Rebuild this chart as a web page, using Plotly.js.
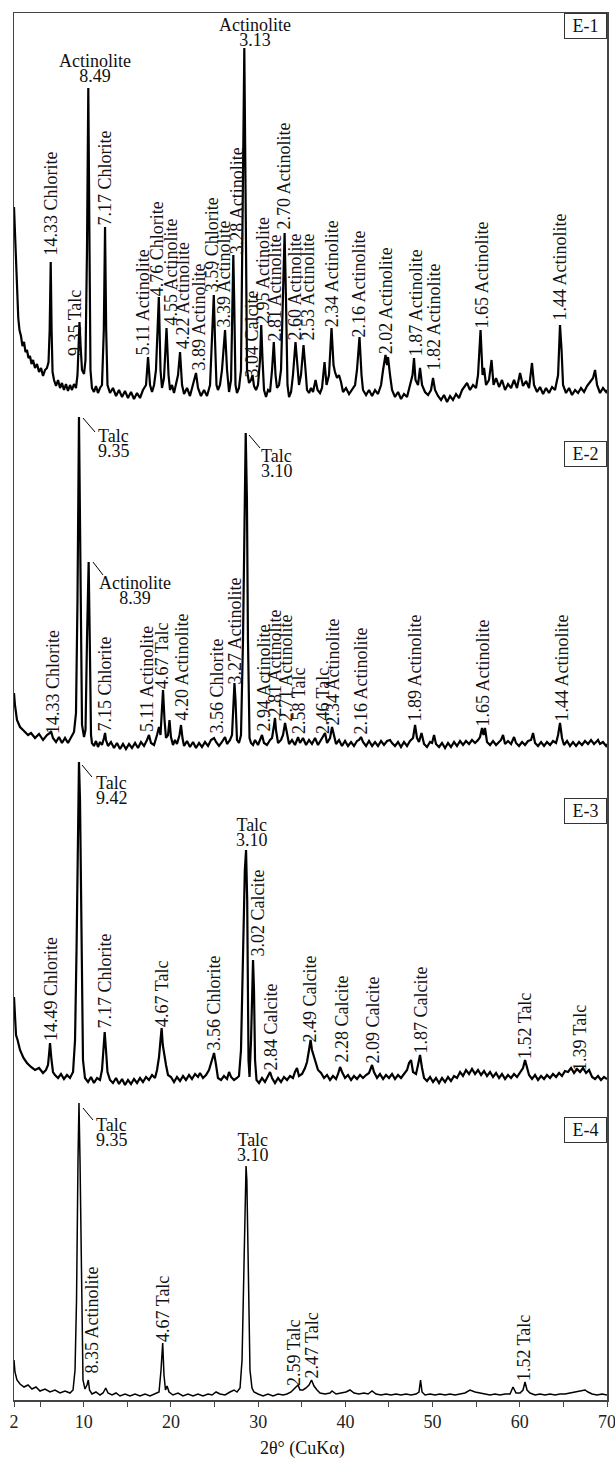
<!DOCTYPE html>
<html><head><meta charset="utf-8">
<script src="https://cdn.plot.ly/plotly-3.0.1.min.js"></script>
<style>html,body{margin:0;padding:0;background:#fff}#chart{width:615px;height:1458px}</style>
</head><body><div id="chart"></div>
<script>
// ---------- E-1 ----------
const e1TwoTheta = [2.00,2.07,2.15,2.23,2.34,2.49,2.63,2.80,2.97,3.15,3.32,3.49,3.66,3.83,4.01,4.18,4.41,4.64,4.87,5.10,5.33,5.56,5.78,5.96,6.09,6.21,6.31,6.42,6.59,6.82,7.05,7.28,7.50,7.73,7.96,8.19,8.42,8.65,8.88,9.11,9.28,9.51,9.63,9.80,10.03,10.20,10.37,10.52,10.66,10.77,10.94,11.17,11.40,11.63,11.86,12.09,12.30,12.44,12.57,12.72,13.01,13.35,13.70,14.04,14.39,14.73,15.07,15.42,15.76,16.11,16.45,16.79,17.14,17.37,17.60,17.83,18.06,18.28,18.61,18.80,18.97,19.20,19.49,19.72,19.89,20.12,20.35,20.58,20.81,21.04,21.27,21.50,21.84,22.18,22.53,22.87,23.10,23.44,23.79,24.13,24.48,24.71,24.91,25.05,25.22,25.39,25.62,25.85,26.20,26.43,26.66,26.89,27.06,27.15,27.25,27.40,27.57,27.80,28.03,28.26,28.41,28.56,28.72,28.95,29.18,29.35,29.52,29.75,29.98,30.21,30.35,30.50,30.67,30.90,31.13,31.36,31.59,31.79,31.99,32.16,32.39,32.62,32.85,33.03,33.19,33.36,33.54,33.77,33.99,34.28,34.45,34.68,34.91,35.20,35.43,35.60,35.83,36.06,36.29,36.58,36.81,37.09,37.32,37.61,37.84,38.12,38.41,38.64,38.81,39.04,39.27,39.50,39.73,40.07,40.42,40.76,41.11,41.33,41.62,41.85,42.02,42.37,42.71,43.06,43.40,43.74,44.09,44.32,44.60,44.78,44.89,45.12,45.35,45.69,46.04,46.38,46.72,47.07,47.41,47.70,47.87,48.04,48.33,48.56,48.79,49.13,49.48,49.82,50.05,50.28,50.62,50.97,51.31,51.66,52.00,52.34,52.69,53.03,53.38,53.72,53.95,54.29,54.64,54.98,55.21,55.50,55.73,55.90,56.13,56.47,56.76,56.99,57.28,57.62,57.96,58.31,58.65,59.00,59.34,59.68,60.03,60.37,60.72,61.06,61.40,61.63,61.98,62.32,62.67,63.01,63.35,63.70,64.04,64.39,64.61,64.79,64.96,65.30,65.65,65.99,66.34,66.68,67.02,67.37,67.71,68.06,68.40,68.63,68.86,69.20,69.54,69.89,70.00];
const e1Counts = [193,178,160,138,110,82,70,64,54,58,48,50,42,44,36,40,32,36,28,32,24,30,32,38,70,138,70,28,20,14,20,12,17,10,16,9,15,10,16,12,25,78,55,30,26,40,150,312,150,30,12,8,14,7,12,15,70,173,70,15,7,12,4,10,3,9,2,8,1,7,2,10,15,43,15,8,15,30,103,30,12,22,72,25,10,15,7,16,25,48,15,6,12,4,15,27,12,4,10,4,15,60,105,60,15,10,15,30,70,30,8,20,100,145,100,15,7,12,30,200,352,200,30,17,20,25,14,10,15,40,75,40,10,3,10,8,30,58,25,12,15,30,100,167,100,15,3,8,25,58,40,15,25,55,30,10,7,12,8,20,10,7,12,38,15,25,72,35,28,22,25,18,8,12,6,10,15,30,63,25,10,5,10,4,10,6,15,30,45,35,43,25,10,3,8,1,6,3,15,25,42,20,15,32,15,8,5,10,22,10,4,0,5,-2,4,0,6,2,10,14,17,10,15,12,25,70,25,32,15,20,40,15,22,13,20,10,16,12,20,12,27,14,19,12,37,15,8,13,6,12,7,13,10,25,75,50,15,7,12,5,10,7,12,8,14,18,22,30,15,7,12,8,10];
const e1Labels = ['14.33 Chlorite','9.35 Talc','7.17 Chlorite','5.11 Actinolite','4.76 Chlorite','4.55 Actinolite','4.22 Actinolite','3.89 Actinolite','3.59 Chlorite','3.39 Actinolite','3.28 Actinolite','3.04 Calcite','2.95 Actinolite','2.81 Actinolite','2.70 Actinolite','2.60 Actinolite','2.53 Actinolite','2.34 Actinolite','2.16 Actinolite','2.02 Actinolite','1.87 Actinolite','1.82 Actinolite','1.65 Actinolite','1.44 Actinolite'];
const e1LabelTwoTheta = [6.19,9.00,12.32,16.74,18.36,19.89,21.32,23.10,24.67,26.08,27.54,29.29,30.50,31.82,32.85,34.11,35.60,38.43,41.56,44.64,48.08,50.05,55.56,64.50];
const e1LabelCounts = [143,43,173,43,103,73,50,28,107,72,145,22,75,57,169,58,58,72,62,45,43,28,70,78];
const e1HeadMineral = ['Actinolite','Actinolite'];
const e1HeadSpacing = ['8.49','3.13'];
const e1HeadTwoTheta = [11.29,29.64];
const e1HeadCounts = [332,368];

// ---------- E-2 ----------
const e2TwoTheta = [2.00,2.11,2.34,2.69,3.15,3.61,3.95,4.41,4.87,5.33,5.78,6.13,6.24,6.47,6.82,7.16,7.50,7.85,8.19,8.54,8.88,9.11,9.28,9.45,9.63,9.80,10.03,10.20,10.37,10.56,10.72,10.83,10.94,11.17,11.40,11.63,11.86,12.09,12.32,12.44,12.55,12.78,13.12,13.47,13.81,14.16,14.50,14.84,15.19,15.53,15.88,16.22,16.56,16.91,17.25,17.48,17.71,18.06,18.40,18.63,18.80,18.97,19.09,19.26,19.43,19.66,19.83,20.00,20.23,20.46,20.69,20.98,21.15,21.32,21.50,21.84,22.18,22.53,22.87,23.22,23.56,23.90,24.25,24.59,24.94,25.17,25.51,25.85,26.20,26.43,26.77,27.00,27.17,27.28,27.40,27.57,27.80,28.03,28.26,28.43,28.57,28.71,28.83,29.01,29.18,29.41,29.64,29.98,30.21,30.44,30.67,31.01,31.36,31.59,31.82,31.93,32.04,32.28,32.62,32.85,33.08,33.31,33.54,33.88,34.22,34.45,34.57,34.80,35.14,35.49,35.83,36.17,36.52,36.86,37.21,37.44,37.67,37.90,38.24,38.47,38.70,38.93,39.27,39.61,39.96,40.30,40.65,40.99,41.33,41.56,41.79,42.02,42.37,42.71,43.06,43.40,43.74,44.09,44.43,44.78,45.12,45.35,45.69,46.04,46.38,46.72,47.07,47.41,47.76,47.99,48.21,48.44,48.73,49.02,49.36,49.71,49.94,50.17,50.39,50.74,51.08,51.43,51.77,52.11,52.46,52.80,53.15,53.49,53.83,54.18,54.52,54.87,55.21,55.44,55.67,55.84,56.01,56.24,56.59,56.93,57.28,57.62,57.85,58.08,58.31,58.65,59.00,59.34,59.57,59.91,60.26,60.60,60.95,61.29,61.52,61.75,62.09,62.44,62.78,63.12,63.47,63.81,64.16,64.39,64.61,64.84,65.07,65.42,65.76,66.10,66.45,66.79,67.13,67.48,67.82,68.17,68.51,68.86,68.97,69.20,69.54,69.89,70.00];
const e2Counts = [57,45,30,23,19,15,17,12,16,10,15,17,19,12,8,13,7,12,7,12,18,37,150,333,150,25,13,20,110,188,90,15,7,4,9,3,8,5,12,17,10,4,8,2,7,1,6,1,6,2,7,2,8,4,10,15,7,5,15,23,15,50,60,30,12,15,30,13,5,10,6,15,25,12,4,9,3,8,2,7,3,8,4,10,12,8,4,8,13,6,10,15,50,67,50,10,7,15,110,250,317,250,110,12,7,5,10,5,10,15,7,5,10,12,25,32,20,7,10,15,27,15,6,10,5,10,13,7,12,5,10,6,12,5,10,13,17,7,12,23,15,6,10,4,9,4,8,4,9,10,13,8,4,9,4,8,4,9,5,9,10,7,4,8,3,8,4,9,12,25,12,8,17,6,3,8,7,15,6,3,7,2,7,3,8,4,9,5,9,6,10,7,10,13,22,15,22,8,5,9,5,8,10,15,6,9,6,13,7,4,8,5,9,10,17,7,4,8,4,8,5,9,7,15,27,12,5,9,4,8,4,8,5,9,6,10,6,9,10,6,8,4,6];
const e2Labels = ['14.33 Chlorite','7.15 Chlorite','5.11 Actinolite','4.67 Talc','4.20 Actinolite','3.56 Chlorite','3.27 Actinolite','2.94 Actinolite','2.81 Actinolite','2.71 Actinolite','2.58 Talc','2.46 Talc','2.34 Actinolite','2.16 Actinolite','1.89 Actinolite','1.65 Actinolite','1.44 Actinolite'];
const e2LabelTwoTheta = [6.47,12.32,17.25,18.97,21.15,25.17,27.34,30.56,31.82,33.08,34.68,37.44,38.47,41.79,47.87,55.67,64.73];
const e2LabelCounts = [15,17,17,60,28,15,65,17,32,27,15,15,23,15,27,22,27];
const e2HeadMineral = ['Talc','Talc','Actinolite'];
const e2HeadSpacing = ['9.35','3.10','8.39'];
const e2HeadTwoTheta = [11.52,30.21,15.82];
const e2HeadCounts = [307,287,160];
const e2Leaders = [[9.91,332,11.29,318],[28.95,315,30.21,302],[11.06,188,12.21,175]];

// ---------- E-3 ----------
const e3TwoTheta = [2.00,2.11,2.23,2.41,2.69,3.09,3.49,3.95,4.41,4.87,5.33,5.67,5.90,6.01,6.13,6.30,6.47,6.70,7.05,7.39,7.73,8.08,8.42,8.77,9.00,9.17,9.34,9.45,9.57,9.74,9.91,10.14,10.49,10.83,11.17,11.52,11.86,12.09,12.26,12.40,12.55,12.72,13.01,13.35,13.70,14.04,14.39,14.73,15.07,15.42,15.76,16.11,16.45,16.79,17.14,17.48,17.83,18.17,18.40,18.63,18.80,18.93,19.06,19.26,19.43,19.66,20.00,20.35,20.69,21.04,21.38,21.72,22.07,22.41,22.76,23.10,23.33,23.67,24.02,24.36,24.65,24.94,25.17,25.39,25.74,26.08,26.43,26.66,26.89,27.23,27.57,27.80,28.03,28.26,28.47,28.61,28.74,28.89,29.01,29.18,29.29,29.41,29.52,29.64,29.81,30.10,30.44,30.78,31.13,31.36,31.59,31.93,32.28,32.62,32.96,33.31,33.65,33.99,34.22,34.45,34.68,35.03,35.37,35.60,35.83,36.01,36.17,36.40,36.63,36.86,37.21,37.55,37.90,38.24,38.58,38.93,39.16,39.39,39.62,39.96,40.30,40.65,40.99,41.33,41.68,42.02,42.37,42.71,43.06,43.28,43.63,43.97,44.32,44.66,45.00,45.35,45.69,46.04,46.38,46.72,47.07,47.30,47.53,47.76,48.10,48.33,48.56,48.79,49.02,49.36,49.71,50.05,50.39,50.74,51.08,51.43,51.77,52.11,52.46,52.80,53.15,53.49,53.83,54.18,54.52,54.87,55.21,55.56,55.90,56.24,56.59,56.93,57.28,57.62,57.96,58.31,58.65,59.00,59.34,59.68,60.03,60.37,60.60,60.83,61.06,61.40,61.75,62.09,62.44,62.78,63.12,63.47,63.81,64.16,64.50,64.84,65.18,65.53,65.88,66.22,66.56,66.91,67.25,67.60,67.94,68.29,68.63,68.97,69.31,69.66,70.00];
const e3Counts = [88,65,50,45,35,27,22,18,15,17,12,15,20,30,42,25,13,10,7,11,6,10,7,13,45,135,285,323,285,135,25,7,3,8,2,7,5,15,35,53,35,13,5,2,7,1,6,0,5,1,6,2,7,3,8,5,10,7,15,28,45,57,40,28,20,10,8,3,8,4,9,5,10,6,11,8,12,7,10,15,23,32,20,7,5,9,6,13,8,5,7,9,35,135,215,235,185,25,8,45,95,125,95,25,5,2,7,3,9,13,7,2,7,3,8,5,9,7,13,17,9,11,17,23,35,45,35,28,20,15,12,7,10,5,9,6,11,18,13,7,10,5,9,6,10,7,10,12,20,13,7,11,6,10,7,11,6,10,7,11,15,22,25,13,11,20,30,17,7,4,8,3,7,2,7,3,8,4,9,7,13,9,15,11,16,11,15,10,14,9,13,8,12,7,11,6,10,7,11,8,13,17,25,17,10,6,10,5,9,6,10,7,11,8,12,9,14,13,17,12,16,13,17,12,15,8,6,9,5,8,6];
const e3Labels = ['14.49 Chlorite','7.17 Chlorite','4.67 Talc','3.56 Chlorite','3.02 Calcite','2.84 Calcite','2.49 Calcite','2.28 Calcite','2.09 Calcite','1.87 Calcite','1.52 Talc','1.39 Talc'];
const e3LabelTwoTheta = [6.24,12.32,18.97,24.82,29.87,31.36,35.94,39.61,43.06,48.56,60.60,66.91];
const e3LabelCounts = [43,55,57,33,127,13,42,22,20,30,25,13];
const e3HeadMineral = ['Talc','Talc'];
const e3HeadSpacing = ['9.42','3.10'];
const e3HeadTwoTheta = [11.29,29.29];
const e3HeadCounts = [295,253];
const e3Leaders = [[9.80,320,10.94,308]];

// ---------- E-4 ----------
const e4TwoTheta = [2.00,2.11,2.34,2.69,3.15,3.61,4.06,4.52,4.98,5.56,6.13,6.70,7.28,7.85,8.42,8.77,9.00,9.17,9.34,9.45,9.57,9.74,9.91,10.14,10.37,10.52,10.66,10.94,11.40,11.86,12.21,12.52,12.78,13.24,13.70,14.16,14.73,15.30,15.88,16.45,17.02,17.60,18.17,18.63,18.86,19.05,19.20,19.37,19.55,19.78,20.23,20.81,21.38,21.95,22.53,23.10,23.67,24.25,24.71,25.17,25.62,26.20,26.77,27.23,27.57,27.92,28.15,28.38,28.53,28.61,28.70,28.83,29.06,29.29,29.52,29.98,30.56,31.13,31.70,32.28,32.85,33.31,33.77,34.22,34.57,34.80,35.14,35.49,35.83,36.12,36.40,36.75,37.09,37.67,38.24,38.47,38.93,39.50,40.07,40.53,40.99,41.56,42.14,42.60,43.06,43.51,44.09,44.66,45.23,45.81,46.38,46.95,47.53,48.10,48.44,48.62,48.79,49.13,49.71,50.28,50.85,51.43,52.00,52.57,53.15,53.72,54.29,54.87,55.44,56.01,56.59,57.16,57.73,58.31,58.88,59.22,59.57,60.03,60.37,60.60,60.83,61.17,61.75,62.32,62.89,63.47,64.04,64.61,65.18,65.76,66.33,66.91,67.48,67.82,68.29,68.86,69.43,70.00];
const e4Counts = [40,28,20,16,13,15,11,13,9,11,8,10,7,9,7,10,30,100,240,297,240,100,20,11,15,20,10,6,8,5,7,12,7,5,7,4,6,4,6,4,6,4,6,8,30,57,25,10,14,8,5,7,4,6,4,6,4,6,5,8,6,5,8,10,8,12,40,150,220,234,220,150,30,12,8,6,4,6,4,6,5,6,8,12,15,10,10,12,15,20,14,10,7,6,7,9,6,7,8,10,7,6,7,6,9,6,5,6,5,6,5,6,5,6,8,20,8,5,6,5,6,5,6,5,6,7,10,8,7,6,5,6,5,6,6,13,7,7,10,18,10,7,5,6,5,6,5,6,6,7,8,9,10,8,6,5,6,5];
const e4Labels = ['8.35 Actinolite','4.67 Talc','2.59 Talc','2.47 Talc','1.52 Talc'];
const e4LabelTwoTheta = [10.83,19.09,34.11,36.12,60.49];
const e4LabelCounts = [25,57,13,20,18];
const e4HeadMineral = ['Talc','Talc'];
const e4HeadSpacing = ['9.35','3.10'];
const e4HeadTwoTheta = [11.29,29.41];
const e4HeadCounts = [268,253];
const e4Leaders = [[9.91,292,11.06,280]];

const sampleNames = ['E-1','E-2','E-3','E-4'];
const xTickVals = [2,5,10,15,20,25,30,35,40,45,50,55,60,65,70];
const xTickText = ['2','','10','','20','','30','','40','','50','','60','','70'];

// ---------- build ----------
const FONT = 'Liberation Serif, Times New Roman, DejaVu Serif, serif';
const panels = [
  {ax:'y',  x:e1TwoTheta, y:e1Counts, L:e1Labels, LX:e1LabelTwoTheta, LY:e1LabelCounts, HM:e1HeadMineral, HS:e1HeadSpacing, HX:e1HeadTwoTheta, HY:e1HeadCounts, HA:['center','center'], lead:[], boxTop:1.0, range:[-1000,387]},
  {ax:'y2', x:e2TwoTheta, y:e2Counts, L:e2Labels, LX:e2LabelTwoTheta, LY:e2LabelCounts, HM:e2HeadMineral, HS:e2HeadSpacing, HX:e2HeadTwoTheta, HY:e2HeadCounts, HA:['left','left','center'], lead:e2Leaders, boxTop:0.6914, range:[-650,737]},
  {ax:'y3', x:e3TwoTheta, y:e3Counts, L:e3Labels, LX:e3LabelTwoTheta, LY:e3LabelCounts, HM:e3HeadMineral, HS:e3HeadSpacing, HX:e3HeadTwoTheta, HY:e3HeadCounts, HA:['left','center'], lead:e3Leaders, boxTop:0.4340, range:[-315,1072]},
  {ax:'y4', x:e4TwoTheta, y:e4Counts, L:e4Labels, LX:e4LabelTwoTheta, LY:e4LabelCounts, HM:e4HeadMineral, HS:e4HeadSpacing, HX:e4HeadTwoTheta, HY:e4HeadCounts, HA:['left','center'], lead:e4Leaders, boxTop:0.2040, range:[0,1387]}
];

const big = s => '<span style="font-size:18px">' + s + '</span>';
const traces = [], annotations = [], shapes = [];
panels.forEach((p, k) => {
  traces.push({x:p.x, y:p.y, yaxis:p.ax, xaxis:'x', type:'scatter', mode:'lines',
    line:{color:'#000', width:k===3?1.5:2.2}, hoverinfo:'skip', showlegend:false});
  p.L.forEach((t, i) => annotations.push({xref:'x', yref:p.ax, x:p.LX[i], y:p.LY[i], text:t,
    textangle:-90, xanchor:'center', yanchor:'bottom', showarrow:false, borderpad:0,
    font:{family:FONT, size:18, color:'#111'}}));
  p.HM.forEach((t, i) => annotations.push({xref:'x', yref:p.ax, x:p.HX[i], y:p.HY[i],
    text:big(t) + '<br>' + big(p.HS[i]), align:p.HA[i],
    xanchor:p.HA[i], yanchor:'middle', showarrow:false, borderpad:0,
    font:{family:FONT, size:11.5, color:'#111'}}));
  p.lead.forEach(l => shapes.push({type:'line', xref:'x', yref:p.ax, x0:l[0], y0:l[1], x1:l[2], y1:l[3],
    line:{color:'#000', width:1}}));
  annotations.push({xref:'paper', yref:'paper', x:1, y:p.boxTop, xanchor:'right', yanchor:'top',
    text:sampleNames[k], showarrow:false, width:41, height:24, borderpad:0, borderwidth:1,
    bordercolor:'#333', bgcolor:'#fff', font:{family:FONT, size:18, color:'#111'}});
});
annotations.push({xref:'paper', yref:'paper', x:0.486, y:-0.0353, xanchor:'center', yanchor:'middle',
  text:'2θ° (CuKα)', showarrow:false, font:{family:FONT, size:18, color:'#111'}});

const yBase = {showgrid:false, zeroline:false, showticklabels:false, ticks:'', fixedrange:true};
const layout = {
  width:615, height:1458,
  margin:{l:14, r:8, t:13, b:58},
  paper_bgcolor:'#fff', plot_bgcolor:'#fff',
  showlegend:false,
  xaxis:{range:[2,70], tickvals:xTickVals, ticktext:xTickText, ticks:'outside', ticklen:5,
    tickcolor:'#444', tickwidth:1, showline:true, mirror:true, linecolor:'#444', linewidth:1.5,
    ticklabeloverflow:'allow', automargin:false,
    showgrid:false, zeroline:false, tickfont:{family:FONT, size:18, color:'#222'}, fixedrange:true},
  yaxis:Object.assign({}, yBase, {range:panels[0].range, showline:true, mirror:true, linecolor:'#444', linewidth:1.5}),
  yaxis2:Object.assign({}, yBase, {range:panels[1].range, overlaying:'y', visible:false}),
  yaxis3:Object.assign({}, yBase, {range:panels[2].range, overlaying:'y', visible:false}),
  yaxis4:Object.assign({}, yBase, {range:panels[3].range, overlaying:'y', visible:false}),
  annotations:annotations, shapes:shapes
};
Plotly.newPlot('chart', traces, layout, {displayModeBar:false, staticPlot:true});
</script>
</body></html>
